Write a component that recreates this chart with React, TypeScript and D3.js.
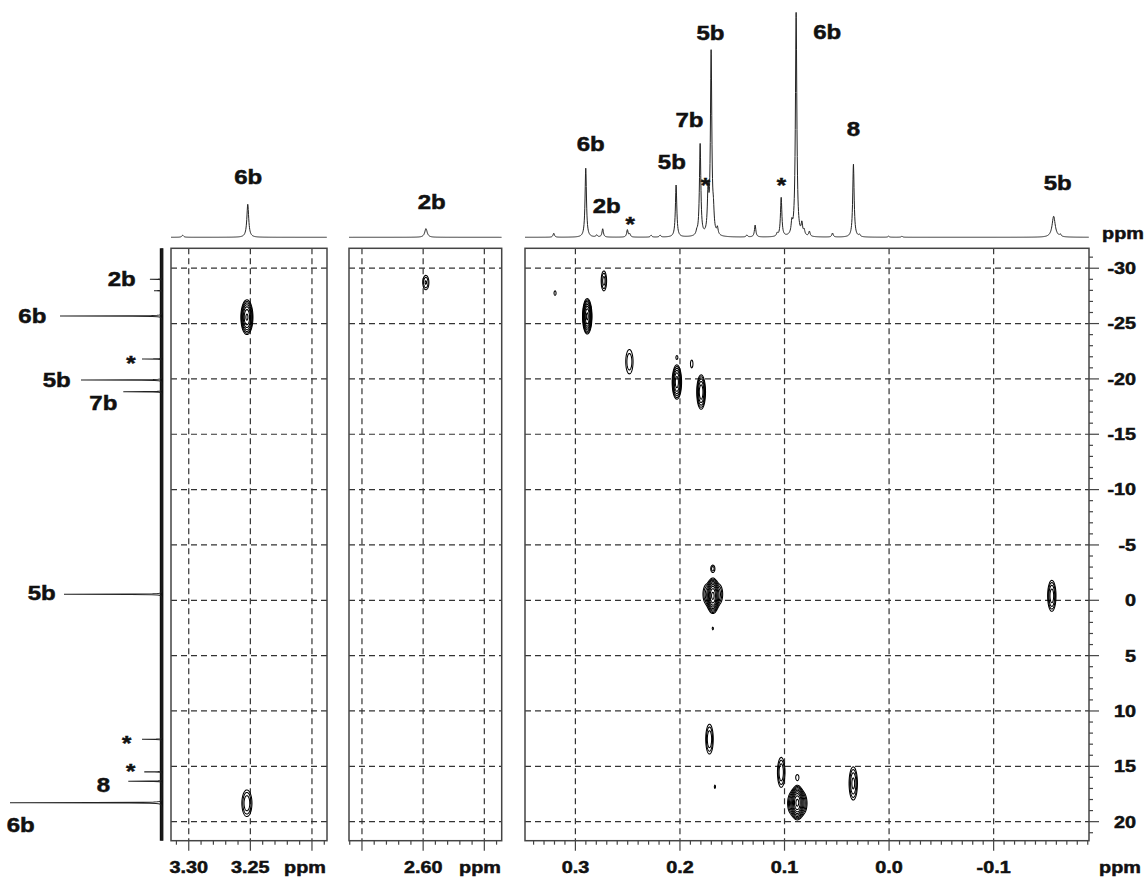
import { useMemo } from 'react'
import * as d3 from 'd3'

// F1 (29Si) ticks, ppm
const f1Ticks = [-30, -25, -20, -15, -10, -5, 0, 5, 10, 15, 20]

// cross peaks: [dH, dSi, height, half extent dH, half extent dSi] (ppm)
const crossA = [
  [3.253, -25.62, 10, 0.0049, 1.57],
  [3.253, 18.29, 3, 0.0041, 1.2],
]
const crossB = [[2.598, -28.75, 2.2, 0.0025, 0.65]]
const crossC = [
  [0.3197, -27.8, 1.3, 0.001, 0.2],
  [0.273, -28.9, 2.5, 0.0026, 0.9],
  [0.2889, -25.7, 15, 0.0045, 1.6],
  [0.2486, -21.6, 2.0, 0.0035, 1.1],
  [0.2032, -22.0, 1.25, 0.0008, 0.14],
  [0.189, -21.4, 1.3, 0.0012, 0.35],
  [0.2032, -19.76, 8, 0.0045, 1.55],
  [0.18, -18.86, 6, 0.0042, 1.55],
  [0.1688, -0.45, 22, 0.006, 1.6],
  [0.1752, -0.6, 2.0, 0.003, 0.8],
  [0.1624, -0.6, 2.0, 0.003, 0.8],
  [0.1688, -2.9, 1.8, 0.002, 0.32],
  [0.1688, 2.5, 1.2, 0.0006, 0.12],
  [-0.1554, -0.45, 4, 0.004, 1.4],
  [0.172, 12.5, 3, 0.0036, 1.35],
  [0.1668, 16.8, 1.2, 0.0006, 0.15],
  [0.1034, 15.5, 3, 0.0036, 1.35],
  [0.088, 15.95, 1.4, 0.0015, 0.25],
  [0.088, 18.24, 22, 0.0065, 1.55],
  [0.0942, 18.3, 2.0, 0.003, 0.8],
  [0.0818, 18.3, 2.0, 0.003, 0.8],
  [0.0345, 16.5, 3.5, 0.004, 1.5],
]

// 1H traces: [dH, height, optional half width]
const traceA = [[3.3049, 2], [3.2521, 33]]
const traceB = [[2.5977, 8.7]]
const traceC = [
  [0.3207, 4], [0.2901, 69], [0.2796, 2], [0.2739, 8.3], [0.2503, 7.3], [0.248, 3],
  [0.2276, 2], [0.219, 2], [0.2037, 52], [0.1839, 3], [0.1807, 92], [0.1731, 41],
  [0.1702, 182], [0.168, 17], [0.1642, 7], [0.136, 2], [0.1281, 12], [0.107, 3],
  [0.1032, 39], [0.093, 11], [0.0889, 224], [0.0834, 11], [0.0812, 5], [0.0762, 5],
  [0.0541, 4], [0.0341, 73], [0.0283, 2], [0.0005, 1], [-0.0123, 1], [-0.1574, 21, 0.0018],
  [-0.1638, 2],
]

// 29Si projection: [dSi, height]
const projF1 = [
  [-29.0, 12], [-27.97, 8], [-25.68, 102], [-21.8, 20], [-19.9, 81], [-18.84, 38.7],
  [-0.54, 98], [12.56, 20], [15.5, 17.7], [16.35, 33.7], [18.29, 152],
]

// assignments: [text, ppm, level]
const labelsA: [string, number, number][] = [['6b', 3.2517, 60.6]]
const labelsB: [string, number, number][] = [['2b', 2.593, 35.6]]
const labelsC: [string, number, number][] = [
  ['6b', 0.2853, 93.3], ['2b', 0.27, 31.6], ['*', 0.2477, 18], ['5b', 0.2078, 75.6],
  ['7b', 0.191, 117.3], ['*', 0.1757, 57.3], ['5b', 0.1709, 204], ['*', 0.1029, 57.3],
  ['6b', 0.0592, 205.3], ['8', 0.0341, 108.3], ['5b', -0.1612, 54.6],
]
const labelsF1: [string, number, number][] = [
  ['2b', -29.0, 40.3], ['6b', -25.68, 129.7], ['*', -21.8, 31], ['5b', -19.9, 105.3],
  ['7b', -17.85, 58.7], ['5b', -0.68, 120.3], ['*', 12.47, 35.3], ['*', 15.04, 31.3],
  ['8', 16.63, 58.7], ['6b', 20.3, 141.3],
]

const levels = [1, 1.45, 2.1, 3.05, 4.4, 6.4, 9.3, 13.5, 19.6]
const FONT = "'Liberation Sans', Arial, Helvetica, sans-serif"
const INK = '#111'

type Scale = d3.ScaleLinear<number, number>

function contourPaths(peaks: number[][], xs: Scale, ys: Scale) {
  const [x0, x1] = xs.range()
  const [y0, y1] = ys.range()
  const rx = 0.5
  const ry = 1
  const nx = Math.ceil((x1 - x0) / rx)
  const ny = Math.ceil((y1 - y0) / ry)
  const grid = new Float64Array(nx * ny)
  for (const [dx, dy, a, ex, ey] of peaks) {
    if (a <= 1) continue
    const k = Math.sqrt(2 * Math.log(a))
    const cx = (xs(dx) - x0) / rx
    const cy = (ys(dy) - y0) / ry
    const sx = Math.abs(xs(dx + ex) - xs(dx)) / rx / k
    const sy = Math.abs(ys(dy + ey) - ys(dy)) / ry / k
    const i0 = Math.max(0, Math.floor(cx - 5 * sx))
    const i1 = Math.min(nx - 1, Math.ceil(cx + 5 * sx))
    const j0 = Math.max(0, Math.floor(cy - 5 * sy))
    const j1 = Math.min(ny - 1, Math.ceil(cy + 5 * sy))
    for (let j = j0; j <= j1; j++) {
      const v = (j - cy) / sy
      for (let i = i0; i <= i1; i++) {
        const u = (i - cx) / sx
        grid[j * nx + i] += a * Math.exp(-0.5 * (u * u + v * v))
      }
    }
  }
  const cs = d3.contours().size([nx, ny]).thresholds(levels)(grid as unknown as number[])
  const proj = d3.geoTransform({
    point(x: number, y: number) {
      this.stream.point(x0 + x * rx, y0 + y * ry)
    },
  })
  const path = d3.geoPath(proj)
  return cs.map((c) => path(c) ?? '')
}

function tracePath(peaks: number[][], xs: Scale, yi: Scale, hw: number, vertical = false) {
  const [a, b] = xs.range()
  const pts: number[] = d3.range(Math.min(a, b), Math.max(a, b), 0.25)
  peaks.forEach((p) => pts.push(xs(p[0])))
  pts.sort((m, n) => m - n)
  const data = pts.map((px) => {
    const ppm = xs.invert(px)
    let v = 0
    for (const p of peaks) {
      const w = p[2] ?? hw
      const d = ppm - p[0]
      v += (p[1] * w * w) / (d * d + w * w)
    }
    return vertical ? ([yi(v), px] as [number, number]) : ([px, yi(v)] as [number, number])
  })
  return d3.line()(data) ?? ''
}

function Lbl({ x, y, size, anchor = 'middle', text }: { x: number; y: number; size: number; anchor?: string; text: string }) {
  return (
    <text
      transform={`translate(${x},${y}) scale(1.2,1)`}
      textAnchor={anchor}
      fontSize={size}
      fontWeight="bold"
      fontFamily={FONT}
      fill={INK}
      stroke={INK}
      strokeWidth={0.5}
    >
      {text}
    </text>
  )
}

// baseline from the visual centre of a label
const base = (cy: number, text: string, size: number) => cy + (text === '*' ? 0.575 : 0.358) * size

const yTop = 248.3
const yBot = 840.7
const traceBase = 237.3

function Panel({
  domain,
  range,
  majorEvery,
  digits,
  tickLabels,
  ppmX,
  peaks,
  trace,
  traceHw,
  labels,
  rightAxis = false,
}: {
  domain: [number, number]
  range: [number, number]
  majorEvery: number
  digits: number
  tickLabels: number[]
  ppmX: number
  peaks: number[][]
  trace: number[][]
  traceHw: number
  labels: [string, number, number][]
  rightAxis?: boolean
}) {
  const xs = useMemo(() => d3.scaleLinear().domain(domain).range(range), [domain, range])
  const ys = useMemo(() => d3.scaleLinear().domain([-31.8, 21.72]).range([yTop, yBot]), [])
  const yi = d3.scaleLinear().domain([0, 230]).range([traceBase, traceBase - 230])
  const paths = useMemo(() => contourPaths(peaks, xs, ys), [peaks, xs, ys])
  const hundredths = d3.range(Math.ceil(Math.min(...domain) * 100), Math.floor(Math.max(...domain) * 100) + 1)
  const majors = hundredths.filter((i) => i % majorEvery === 0).map((i) => i / 100)
  const minors = hundredths.map((i) => i / 100)
  const [x0, x1] = range
  const minorF1 = d3.range(-31, 22)

  return (
    <g>
      {/* 1H trace */}
      <path d={tracePath(trace, xs, yi, traceHw)} fill="none" stroke="#222" strokeWidth={1} />
      {labels.map(([t, ppm, lvl], i) => (
        <Lbl key={i} x={xs(ppm)} y={base(yi(lvl), t, 20)} size={20} text={t} />
      ))}

      {/* grid */}
      {f1Ticks.map((t) => (
        <line key={`h${t}`} x1={x0} x2={x1} y1={ys(t)} y2={ys(t)} stroke="#333" strokeWidth={1.2} strokeDasharray="6 4" />
      ))}
      {majors.map((t) => (
        <line key={`v${t}`} x1={xs(t)} x2={xs(t)} y1={yTop} y2={yBot} stroke="#333" strokeWidth={1.2} strokeDasharray="6 4" />
      ))}

      {/* contours */}
      {paths.map((d, i) => (
        <path key={i} d={d} fill="none" stroke="#000" strokeWidth={1.05} />
      ))}

      {/* frame and F2 ticks */}
      <rect x={x0} y={yTop} width={x1 - x0} height={yBot - yTop} fill="none" stroke="#444" strokeWidth={1.5} />
      {minors.map((t) => {
        const major = majors.includes(t)
        return <line key={`t${t}`} x1={xs(t)} x2={xs(t)} y1={yBot} y2={yBot + (major ? 10 : 4)} stroke="#444" strokeWidth={1.2} />
      })}
      {tickLabels.map((t) => (
        <Lbl key={`l${t}`} x={xs(t)} y={873} size={16.5} text={t.toFixed(digits)} />
      ))}
      <Lbl x={ppmX} y={873} size={16.5} text="ppm" />

      {rightAxis && (
        <g>
          {minorF1.map((t) => (
            <line key={`r${t}`} x1={x1} x2={x1 + (t % 5 === 0 ? 10 : 4)} y1={ys(t)} y2={ys(t)} stroke="#444" strokeWidth={1.2} />
          ))}
          {f1Ticks.map((t) => (
            <Lbl key={`rl${t}`} x={1136} y={ys(t) + 5.9} size={16.5} anchor="end" text={String(t)} />
          ))}
          <Lbl x={1123} y={239} size={16.5} text="ppm" />
        </g>
      )}
    </g>
  )
}

function F1Projection() {
  const ys = d3.scaleLinear().domain([-31.8, 21.72]).range([yTop, yBot])
  const xi = d3.scaleLinear().domain([0, 160]).range([162, 2])
  return (
    <g>
      <line x1={161.6} x2={161.6} y1={yTop} y2={yBot} stroke="#111" strokeWidth={3.6} />
      <path d={tracePath(projF1, ys, xi, 0.015, true)} fill="none" stroke="#222" strokeWidth={1.1} />
      {labelsF1.map(([t, ppm, lvl], i) => (
        <Lbl key={i} x={xi(lvl)} y={base(ys(ppm), t, 20)} size={20} text={t} />
      ))}
    </g>
  )
}

export default function App() {
  return (
    <svg
      width={1145}
      height={880}
      viewBox="0 0 1145 880"
      style={{ position: 'absolute', left: 0, top: 0, background: '#fff' }}
    >
      <rect width={1145} height={880} fill="#fff" />
      <F1Projection />
      <Panel
        domain={[3.3144, 3.1878]}
        range={[171, 327]}
        majorEvery={5}
        digits={2}
        tickLabels={[3.3, 3.25]}
        ppmX={305}
        peaks={crossA}
        trace={traceA}
        traceHw={0.0009}
        labels={labelsA}
      />
      <Panel
        domain={[2.6606, 2.5358]}
        range={[349, 501.7]}
        majorEvery={5}
        digits={2}
        tickLabels={[2.6]}
        ppmX={480}
        peaks={crossB}
        trace={traceB}
        traceHw={0.0012}
        labels={labelsB}
      />
      <Panel
        domain={[0.3482, -0.1912]}
        range={[525, 1089]}
        majorEvery={10}
        digits={1}
        tickLabels={[0.3, 0.2, 0.1, 0, -0.1]}
        ppmX={1120}
        peaks={crossC}
        trace={traceC}
        traceHw={0.0008}
        labels={labelsC}
        rightAxis
      />
    </svg>
  )
}
